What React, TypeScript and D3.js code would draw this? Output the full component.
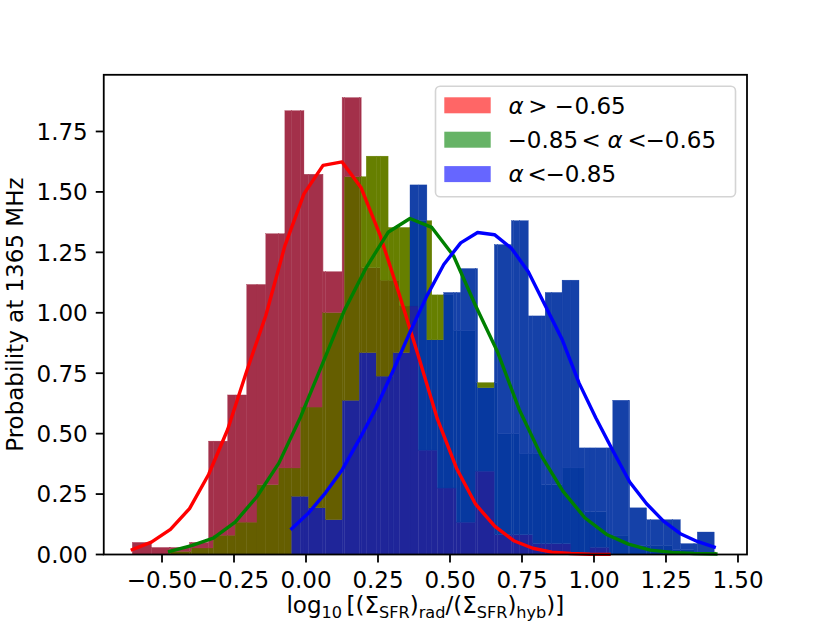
import React from "react";
import * as d3 from "d3";

const W = 830;
const H = 623;
const PLOT = { x0: 103.75, x1: 747, y0: 74.8, y1: 554.5 };
const X_DOMAIN: [number, number] = [-0.7023, 1.5313];
const Y_MAX = 1.9845;

const xTickValues = [-0.5, -0.25, 0, 0.25, 0.5, 0.75, 1.0, 1.25, 1.5];
const yTickValues = [0, 0.25, 0.5, 0.75, 1.0, 1.25, 1.5, 1.75];

// histogram bins (left edge of first bin, bin width), 25 bins each
const redBins = { start: -0.6031, width: 0.06622 };
const greenBins = { start: -0.4736, width: 0.07587 };
const blueBins = { start: -0.04965, width: 0.05868 };

// bar heights (probability density)
const redHeights = [
  0.05, 0.029, 0.029, 0.05, 0.469, 0.66, 1.117, 1.327, 1.836, 1.573, 1.17, 1.89, 1.187,
  1.135, 1.028, 0.432, 0.275, 0.134, 0.345, 0.082, 0.082, 0.045, 0.045, 0.0, 0.03,
];
const greenHeights = [
  0.013, 0.027, 0.08, 0.134, 0.289, 0.358, 0.61, 1.001, 1.563, 1.648, 1.353, 1.381, 1.074,
  0.925, 0.711, 0.499, 0.416, 0.289, 0.358, 0.178, 0.08, 0.038, 0.038, 0.02, 0.01,
];
const blueHeights = [
  0.241, 0.193, 0.144, 0.638, 0.835, 0.738, 0.835, 1.529, 0.888, 1.084, 1.183, 0.69, 1.282,
  1.381, 0.987, 1.084, 1.135, 0.441, 0.441, 0.638, 0.193, 0.144, 0.144, 0.045, 0.093,
];

// fitted curves, sampled at the bin edges (26 points each)
const redCurve = [
  0.02, 0.051, 0.104, 0.19, 0.331, 0.517, 0.759, 0.989, 1.277, 1.492, 1.61, 1.624, 1.517,
  1.319, 1.076, 0.821, 0.56, 0.357, 0.208, 0.117, 0.057, 0.026, 0.01, 0.004, 0.001, 0.0005,
];
const greenCurve = [
  0.013, 0.037, 0.068, 0.134, 0.24, 0.378, 0.57, 0.79, 1.01, 1.187, 1.333, 1.39, 1.353,
  1.235, 1.03, 0.84, 0.6, 0.41, 0.262, 0.152, 0.083, 0.043, 0.018, 0.009, 0.004, 0.002,
];
const blueCurve = [
  0.107, 0.172, 0.255, 0.352, 0.476, 0.607, 0.76, 0.92, 1.07, 1.2, 1.289, 1.332, 1.323,
  1.267, 1.17, 1.03, 0.89, 0.71, 0.565, 0.43, 0.3, 0.21, 0.138, 0.086, 0.054, 0.031,
];

// legend entries, split into math tokens: [text, italic, x-position]
const legendTokens: [string, boolean, number][][] = [
  [
    ["α", true, 508.5],
    [">", false, 528.3],
    ["\u2212", false, 554.5],
    ["0.65", false, 574.5],
  ],
  [
    ["\u22120.85", false, 507.6],
    ["<", false, 581.6],
    ["α", true, 607.5],
    ["<", false, 627.6],
    ["\u22120.65", false, 645.6],
  ],
  [
    ["α", true, 508.5],
    ["<", false, 527.6],
    ["\u22120.85", false, 545.6],
  ],
];

// x-axis label pieces: [text, isSubscript]
const xLabelParts: [string, boolean][] = [
  ["log", false],
  ["10", true],
  ["\u2009[(Σ", false],
  ["SFR", true],
  [")", false],
  ["rad", true],
  ["/(Σ", false],
  ["SFR", true],
  [")", false],
  ["hyb", true],
  [")]", false],
];

const FONT = "DejaVu Sans, Liberation Sans, sans-serif";
const FS = 23;

type Hist = { key: string; start: number; width: number; heights: number[] };

const hists: Hist[] = [
  { key: "R", ...redBins, heights: redHeights },
  { key: "G", ...greenBins, heights: greenHeights },
  { key: "B", ...blueBins, heights: blueHeights },
];

const regionColor: Record<string, string> = {
  R: "#a3304a",
  G: "#667f00",
  RG: "#655e00",
  B: "#1541a8",
  GB: "#0739a0",
  RB: "#1f2599",
  RGB: "#1f2599",
};

function edgesOf(h: { start: number; width: number }, n: number) {
  return d3.range(n + 1).map((k) => h.start + k * h.width);
}
function heightAt(h: Hist, x: number) {
  const k = Math.floor((x - h.start) / h.width);
  return k >= 0 && k < h.heights.length ? h.heights[k] : 0;
}

export default function App() {
  const x = d3.scaleLinear().domain(X_DOMAIN).range([PLOT.x0, PLOT.x1]);
  const y = d3.scaleLinear().domain([0, Y_MAX]).range([PLOT.y1, PLOT.y0]);

  const allEdges = Array.from(
    new Set(hists.flatMap((h) => edgesOf(h, h.heights.length)))
  ).sort((a, b) => a - b);

  const cells: { a: number; b: number; lo: number; hi: number; fill: string }[] = [];
  for (let i = 0; i < allEdges.length - 1; i++) {
    const a = allEdges[i];
    const b = allEdges[i + 1];
    if (b - a < 1e-9) continue;
    const mid = (a + b) / 2;
    const hs = hists.map((h) => heightAt(h, mid));
    const levels = Array.from(new Set([0, ...hs])).sort((p, q) => p - q);
    for (let j = 0; j < levels.length - 1; j++) {
      const lo = levels[j];
      const hi = levels[j + 1];
      const m = (lo + hi) / 2;
      const key = hists
        .filter((_, idx) => hs[idx] > m)
        .map((h) => h.key)
        .join("");
      if (!key) continue;
      cells.push({ a, b, lo, hi, fill: regionColor[key] });
    }
  }

  const curves = [
    { bins: redBins, values: redCurve, color: "#ff0000" },
    { bins: greenBins, values: greenCurve, color: "#008000" },
    { bins: blueBins, values: blueCurve, color: "#0000ff" },
  ];

  const fmt = (v: number) => (v < 0 ? "\u2212" : "") + Math.abs(v).toFixed(2);

  const legendColors = ["#ff6666", "#66b366", "#6666ff"];
  const legendX = 435.5;
  const legendY = 86.3;
  const SUB_SHIFT = 5;

  return (
    <svg width={W} height={H} style={{ display: "block", position: "absolute", left: 0, top: 0 }}>
      <rect x={0} y={0} width={W} height={H} fill="#ffffff" />
      <g>
        {cells.map((c, i) => (
          <rect
            key={i}
            x={x(c.a)}
            y={y(c.hi)}
            width={x(c.b) - x(c.a)}
            height={y(c.lo) - y(c.hi)}
            fill={c.fill}
            stroke={c.fill}
            strokeWidth={0.35}
          />
        ))}
      </g>
      <g fill="none" strokeWidth={3.4} strokeLinejoin="round" strokeLinecap="square">
        {curves.map((c, i) => (
          <path
            key={i}
            stroke={c.color}
            d={
              d3
                .line<number>()
                .x((_, k) => x(c.bins.start + k * c.bins.width))
                .y((v) => y(v))(c.values) || ""
            }
          />
        ))}
      </g>
      {/* frame */}
      <rect
        x={PLOT.x0}
        y={PLOT.y0}
        width={PLOT.x1 - PLOT.x0}
        height={PLOT.y1 - PLOT.y0}
        fill="none"
        stroke="#000"
        strokeWidth={1.8}
      />
      {/* ticks */}
      <g fontFamily={FONT} fontSize={FS} fill="#000">
        {xTickValues.map((v) => (
          <g key={"x" + v}>
            <line x1={x(v)} x2={x(v)} y1={PLOT.y1} y2={PLOT.y1 + 8} stroke="#000" strokeWidth={1.8} />
            <text x={x(v)} y={PLOT.y1 + 33} textAnchor="middle">
              {fmt(v)}
            </text>
          </g>
        ))}
        {yTickValues.map((v) => (
          <g key={"y" + v}>
            <line x1={PLOT.x0 - 8} x2={PLOT.x0} y1={y(v)} y2={y(v)} stroke="#000" strokeWidth={1.8} />
            <text x={PLOT.x0 - 16} y={y(v) + 8.4} textAnchor="end">
              {fmt(v)}
            </text>
          </g>
        ))}
      </g>
      {/* axis labels */}
      <text
        fontFamily={FONT}
        fontSize={FS}
        transform={`translate(23,${(PLOT.y0 + PLOT.y1) / 2}) rotate(-90)`}
        textAnchor="middle"
      >
        Probability at 1365 MHz
      </text>
      <text fontFamily={FONT} fontSize={FS} x={(PLOT.x0 + PLOT.x1) / 2} y={613} textAnchor="middle">
        {xLabelParts.map(([t, isSub], i) => {
          const prevSub = i > 0 ? xLabelParts[i - 1][1] : false;
          const dy = isSub && !prevSub ? SUB_SHIFT : !isSub && prevSub ? -SUB_SHIFT : 0;
          return (
            <tspan key={i} dy={dy} fontSize={isSub ? FS * 0.7 : FS}>
              {t}
            </tspan>
          );
        })}
      </text>
      {/* legend */}
      <rect
        x={legendX}
        y={legendY}
        width={300}
        height={110.5}
        rx={4.6}
        fill="#ffffff"
        fillOpacity={0.8}
        stroke="#d4d4d4"
        strokeWidth={1.6}
      />
      {legendTokens.map((_, i) => (
        <rect
          key={"lp" + i}
          x={444.3}
          y={97.3 + i * 34.4}
          width={46.4}
          height={16}
          fill={legendColors[i]}
        />
      ))}
      <g fontFamily={FONT} fontSize={FS} fill="#000">
        {legendTokens.map((row, i) => (
          <text key={"lt" + i} y={113.5 + i * 34.4}>
            {row.map(([t, it, px], j) => (
              <tspan key={j} x={px} fontStyle={it ? "italic" : "normal"}>
                {t}
              </tspan>
            ))}
          </text>
        ))}
      </g>
    </svg>
  );
}
